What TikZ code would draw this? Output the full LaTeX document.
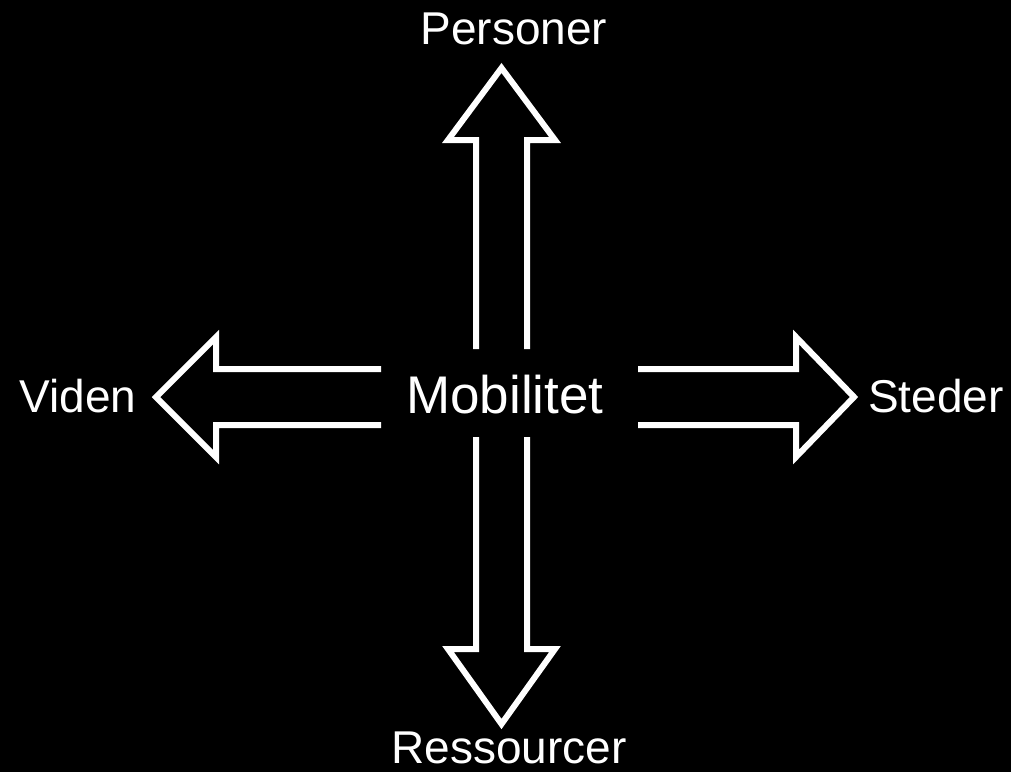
\documentclass[tikz,border=0pt]{standalone}
\usepackage{fontspec}
\setmainfont{Liberation Sans}
\begin{document}
\begin{tikzpicture}[x=1pt,y=-1pt,
  lbl/.style={text=white,inner sep=0pt,anchor=base,font=\fontsize{46}{50}\selectfont},
  center/.style={text=white,inner sep=0pt,anchor=base,font=\fontsize{53}{58}\selectfont},
  blockarrow/.style={draw=white,line width=6pt,line join=miter,miter limit=10}]
\fill[black] (0,0) rectangle (1011,772);
\useasboundingbox (0,0) rectangle (1011,772);
% labels
\node[center] (mob) at (505,413) {Mobilitet};
\node[lbl] (per) at (514,44) {Personer};
\node[lbl] (res) at (509,763) {Ressourcer};
\node[lbl] (vid) at (78,412) {Viden};
\node[lbl] (ste) at (936,412) {Steder};
% up arrow
\draw[blockarrow] (476,349) -- (476,140) -- (448,140) -- (501.5,68) -- (555,140) -- (527,140) -- (527,349);
% down arrow
\draw[blockarrow] (476,437) -- (476,649) -- (448,649) -- (501.5,724) -- (555,649) -- (527,649) -- (527,437);
% left arrow
\draw[blockarrow] (381,369) -- (216,369) -- (216,337) -- (156,397) -- (216,457) -- (216,425) -- (381,425);
% right arrow
\draw[blockarrow] (638,369) -- (796,369) -- (796,337) -- (854,397) -- (796,457) -- (796,425) -- (638,425);
\end{tikzpicture}
\end{document}
